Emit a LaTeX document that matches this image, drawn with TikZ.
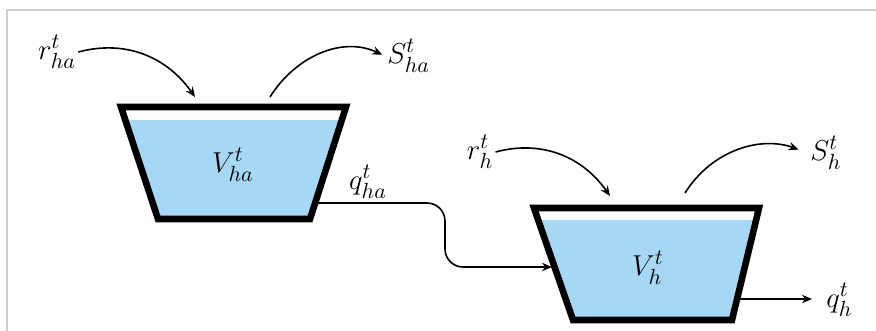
\documentclass[tikz,border=0pt]{standalone}
\usepackage{amsmath}
\usepackage{xcolor}
\usepackage{tikz}
\usetikzlibrary{
	arrows.meta,
	positioning
}
\definecolor{water}{RGB}{166,216,245}
\definecolor{framegray}{RGB}{204,204,204}

\begin{document}
\begin{tikzpicture}[
		x=0.5pt,
		y=-0.5pt,
		>={Stealth[length=5pt,width=4.2pt]},
		wall/.style={
			draw=black,
			line width=3.3pt,
			line join=miter
		},
		flow/.style={
			->,
			line width=0.8pt
		},
		lbl/.style={
			inner sep=1pt,
			font=\fontsize{15.5}{18}\selectfont
		}
		]
		
		\useasboundingbox (0,0) rectangle (876,331);
		\draw[framegray, line width=1pt] (7,331) -- (7,10) -- (876,10);
		
		% Upstream reservoir
		\coordinate (a1) at (121,107);
		\coordinate (a2) at (346,107);
		\coordinate (a3) at (310,219);
		\coordinate (a4) at (158,219);
		\begin{scope}
			\clip (a1) -- (a2) -- (a3) -- (a4) -- cycle;
			\fill[water] (100,120) rectangle (360,230);
		\end{scope}
		\draw[wall] (a1) -- (a2) -- (a3) -- (a4) -- cycle;
		\node[lbl] (Vha) at (233,165) {$V_{ha}^{t}$};
		
		% Downstream reservoir
		\coordinate (b1) at (534,208);
		\coordinate (b2) at (759,208);
		\coordinate (b3) at (732,320);
		\coordinate (b4) at (573,320);
		\begin{scope}
			\clip (b1) -- (b2) -- (b3) -- (b4) -- cycle;
			\fill[water] (510,220) rectangle (780,330);
		\end{scope}
		\draw[wall] (b1) -- (b2) -- (b3) -- (b4) -- cycle;
		\node[lbl] (Vh) at (648,268) {$V_{h}^{t}$};
		
		% Inflows and spills
		\node[lbl] (rha) at (57,52) {$r_{ha}^{t}$};
		\node[lbl, anchor=west] (Sha) at (385,56) {$S_{ha}^{t}$};
		\node[lbl] (rh) at (480,152) {$r_{h}^{t}$};
		\node[lbl, anchor=west] (Sh) at (808,153) {$S_{h}^{t}$};
		\coordinate (t1in) at (195,97);
		\coordinate (t1out) at (270,97);
		\coordinate (t2in) at (610,196);
		\coordinate (t2out) at (685,193);
		
		\draw[flow] (rha.east) to[out=15,in=125] (t1in);
		\draw[flow, shorten >=1.5pt] (t1out) to[out=58,in=155] (Sha.west);
		\draw[flow] (rh.east) to[out=15,in=125] (t2in);
		\draw[flow, shorten >=5pt] (t2out) to[out=58,in=160] (Sh.west);
		
		% Releases
		\coordinate (o1) at (316,203);
		\coordinate (i2) at (552,267);
		\coordinate (o2) at (738,299);
		\node[lbl] (qha) at (368,182) {$q_{ha}^{t}$};
		\node[lbl, anchor=west] (qh) at (824,300) {$q_{h}^{t}$};
		
		\draw[flow, rounded corners=9pt] (o1) -- ++(129,0) |- (i2);
		\draw[flow, shorten >=6pt] (o2) -- (o2 -| qh.west);
		
	\end{tikzpicture}
\end{document}
